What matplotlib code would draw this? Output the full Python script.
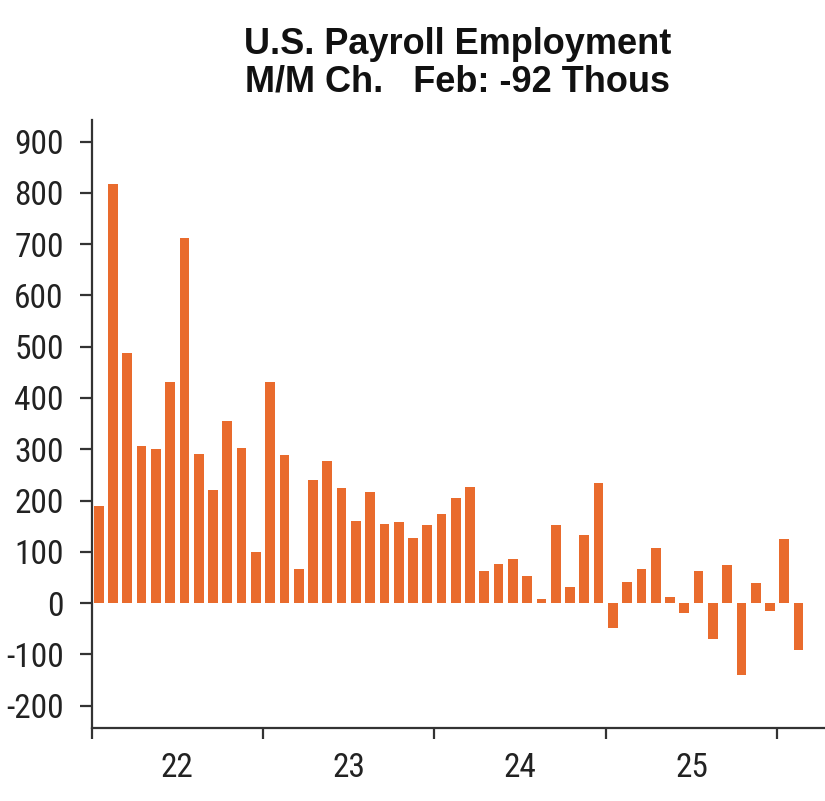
import matplotlib
matplotlib.use('Agg')
import matplotlib.pyplot as plt
from matplotlib import font_manager
import numpy as np

# monthly change in payrolls, thousands, Jan 2022 .. Feb 2026
changes = [190, 817, 488, 307, 300, 432, 713, 290, 220, 356, 302, 100,
           432, 289, 66, 240, 278, 224, 161, 216, 155, 158, 127, 153,
           174, 205, 227, 63, 77, 86, 52, 8, 153, 32, 133, 235,
           -49, 41, 66, 107, 11, -20, 63, -70, 75, -140, 40, -16,
           124, -92]
year_labels = ['22', '23', '24', '25']
y_ticks = [900, 800, 700, 600, 500, 400, 300, 200, 100, 0, -100, -200]

bar_color = '#E96B2D'
axis_color = '#333333'
bold = ['Liberation Sans', 'DejaVu Sans']

# pick a condensed face for the tick labels if one is installed
names = set(f.name for f in font_manager.fontManager.ttflist)
narrow, tick_size = ['Liberation Sans', 'DejaVu Sans'], 20.5
for cand, size in [('Liberation Sans Narrow', 24), ('DejaVu Sans Condensed', 22),
                   ('Roboto Condensed', 24)]:
    if cand in names:
        narrow, tick_size = [cand, 'DejaVu Sans'], size
        break

fig = plt.figure(figsize=(8.25, 8.01), dpi=100)
ax = fig.add_axes([0.111, 0.091, 0.889, 0.759])

x = np.arange(len(changes)) + 0.5
ax.bar(x, changes, width=0.68, color=bar_color, linewidth=0)

ax.set_xlim(0, 51.35)
ax.set_ylim(-244, 942)

for s in ['top', 'right']:
    ax.spines[s].set_visible(False)
for s in ['left', 'bottom']:
    ax.spines[s].set_color(axis_color)
    ax.spines[s].set_linewidth(1.6)

ax.set_yticks(y_ticks)
ax.set_yticklabels([str(v) for v in y_ticks], family=narrow, fontsize=tick_size, color='#222222')
ax.tick_params(axis='y', direction='out', length=9, width=1.6, color=axis_color, pad=11)

ax.set_xticks([0, 12, 24, 36, 48])
ax.set_xticklabels([])
ax.tick_params(axis='x', which='major', direction='out', length=8, width=1.6, color=axis_color)
ax.set_xticks([6, 18, 30, 42], minor=True)
ax.set_xticklabels(year_labels, minor=True, family=narrow, fontsize=tick_size, color='#222222')
ax.tick_params(axis='x', which='minor', length=0, pad=17)

fig.text(0.5545, 0.945, 'U.S. Payroll Employment', ha='center', va='center',
         fontsize=26, fontweight='bold', family=bold, color='#111111')
fig.text(0.5545, 0.898, 'M/M Ch.   Feb: -92 Thous', ha='center', va='center',
         fontsize=26, fontweight='bold', family=bold, color='#111111')

fig.savefig('out.png', dpi=100)
